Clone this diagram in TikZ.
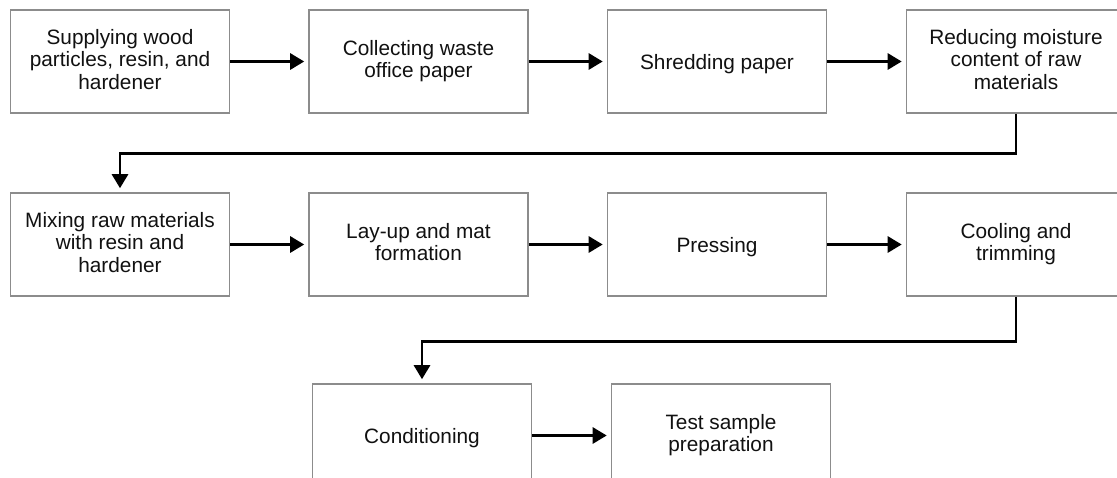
\documentclass[tikz,border=0pt]{standalone}
\usepackage{fontspec}
\setmainfont{Liberation Sans}
\usetikzlibrary{arrows.meta}
\definecolor{boxgray}{HTML}{8C8C8C}
\definecolor{inkblack}{HTML}{111111}
% ascender/descender struts so every label is centred on font metrics
\newcommand{\topstrut}{\rule{0pt}{20pt}}
\newcommand{\botstrut}{\rule[-4.4pt]{0pt}{4.4pt}}
\tikzset{
  stepbox/.style={draw=boxgray, line width=1.6pt, fill=white,
    minimum width=219pt, minimum height=103pt, inner sep=0pt,
    align=center, text=inkblack,
    font=\fontsize{20.8}{22.3}\selectfont,
    execute at begin node=\topstrut,
    execute at end node=\botstrut},
  flow/.style={draw=black, line width=2.8pt,
    -{Triangle[length=14pt,width=16pt]}, shorten >=4pt}
}
\begin{document}
\begin{tikzpicture}[x=1pt,y=-1pt]
  \useasboundingbox (0,0) rectangle (1117,477);
  \clip (0,0) rectangle (1117,477);
  \fill[white] (0,0) rectangle (1117,477);

  % first row
  \node[stepbox] (supply)  at (120,61.5)   {Supplying wood\\particles, resin, and\\hardener};
  \node[stepbox] (collect) at (418.5,61.5) {Collecting waste\\office paper};
  \node[stepbox] (shred)   at (717,61.5)   {Shredding paper};
  \node[stepbox] (reduce)  at (1016,61.5)  {Reducing moisture\\content of raw\\materials};

  % second row
  \node[stepbox] (mix)     at (120,244.5)   {Mixing raw materials\\with resin and\\hardener};
  \node[stepbox] (layup)   at (418.5,244.5) {Lay-up and mat\\formation};
  \node[stepbox] (press)   at (717,244.5)   {Pressing};
  \node[stepbox] (cool)    at (1016,244.5)  {Cooling and\\trimming};

  % third row
  \node[stepbox] (cond)    at (422,435.5) {Conditioning};
  \node[stepbox] (test)    at (721,435.5) {Test sample\\preparation};

  % connectors
  \draw[flow] (supply) -- (collect);
  \draw[flow] (collect) -- (shred);
  \draw[flow] (shred) -- (reduce);
  \draw[flow] (reduce.south) -- ++(0,40) -| (mix.north);
  \draw[flow] (mix) -- (layup);
  \draw[flow] (layup) -- (press);
  \draw[flow] (press) -- (cool);
  \draw[flow] (cool.south) -- ++(0,45) -| (cond.north);
  \draw[flow] (cond) -- (test);
\end{tikzpicture}
\end{document}
